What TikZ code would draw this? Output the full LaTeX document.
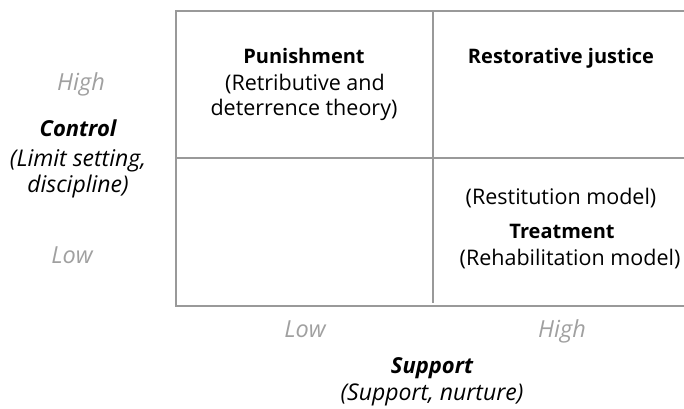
\documentclass[tikz,border=0pt]{standalone}
\usepackage{fontspec}
\setmainfont{Open Sans}
\definecolor{gridgray}{HTML}{999999}
\definecolor{lblgray}{HTML}{A0A0A0}
\begin{document}
\begin{tikzpicture}[x=1pt,y=-1pt,
  gridline/.style={draw=gridgray,line width=2.7pt},
  body/.style={anchor=base,inner sep=0pt,font=\fontsize{21.5}{26}\selectfont},
  head/.style={body,font=\fontsize{20}{24}\selectfont\bfseries},
  axislbl/.style={body,font=\fontsize{22}{26}\selectfont\itshape\bfseries},
  axissub/.style={body,font=\fontsize{23}{27}\selectfont\itshape},
  lvl/.style={body,text=lblgray,font=\fontsize{23.5}{27}\selectfont\itshape}]
\useasboundingbox (0,0) rectangle (684,408);
% grid
\coordinate (tl) at (176,11);
\coordinate (tr) at (684,11);
\coordinate (bl) at (176,306);
\coordinate (br) at (684,306);
\coordinate (vt) at (433,11);
\coordinate (vb) at (433,303);
\coordinate (hl) at (176,158);
\coordinate (hr) at (684,158);
\draw[gridline] (tr) -- (tl) -- (bl) -- (br);
\draw[gridline] (vt) -- (vb);
\draw[gridline] (hl) -- (hr);
% quadrant texts
\node[head] (pun) at (304,63) {Punishment};
\node[body] (pun2) at (305,90) {(Retributive and};
\node[body] (pun3) at (304,115) {deterrence theory)};
\node[head] (rj) at (561,63) {Restorative justice};
\node[body] (rest) at (561,204) {(Restitution model)};
\node[head] (treat) at (562,238) {Treatment};
\node[body] (rehab) at (570,265) {(Rehabilitation model)};
% left axis
\node[lvl] (chigh) at (81,90) {High};
\node[axislbl] (ctrl) at (78,136) {Control};
\node[axissub] (ctrl2) at (78,166) {(Limit setting,};
\node[axissub] (ctrl3) at (78,192) {discipline)};
\node[lvl] (clow) at (72,263) {Low};
% bottom axis
\node[lvl] (slow) at (305,337) {Low};
\node[lvl] (shigh) at (562,337) {High};
\node[axislbl] (sup) at (432,373) {Support};
\node[axissub] (sup2) at (432,400) {(Support, nurture)};
\end{tikzpicture}
\end{document}
